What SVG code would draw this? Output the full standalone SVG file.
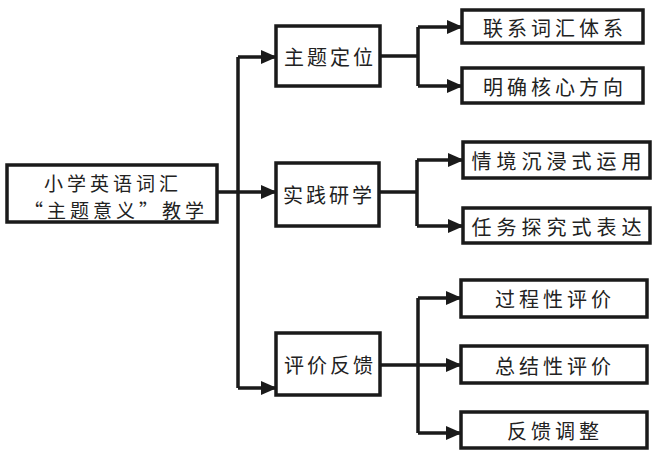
<svg xmlns="http://www.w3.org/2000/svg" width="654" height="454" viewBox="0 0 654 454">
<style>
.box{fill:#fff;stroke:#1a1a1a;stroke-width:3.5}
.t{font-family:"Noto Sans CJK SC","Noto Sans CJK JP",sans-serif;font-size:20px;fill:#222;text-anchor:middle;dominant-baseline:central;letter-spacing:4px}
.r{font-size:19px}
.c{fill:none;stroke:#1a1a1a;stroke-width:3.5}
.a{marker-end:url(#ah)}
</style>
<defs>
<marker id="ah" markerUnits="userSpaceOnUse" markerWidth="16" markerHeight="14" refX="15" refY="7" orient="auto">
<path d="M0,0 L16,7 L0,14 Z" fill="#1a1a1a"/>
</marker>
</defs>
<rect width="654" height="454" fill="#fff"/>
<g id="connectors">
<path class="c" d="M217,192 H238 M238,57 V388"/>
<path class="c a" d="M238,57 H276"/>
<path class="c a" d="M238,192 H276"/>
<path class="c a" d="M238,388 H276"/>
<path class="c" d="M380,56 H418 M418,27 V86"/>
<path class="c a" d="M418,27 H462"/>
<path class="c a" d="M418,86 H462"/>
<path class="c" d="M379,192 H417 M417,160 V226"/>
<path class="c a" d="M417,160 H463"/>
<path class="c a" d="M417,226 H463"/>
<path class="c" d="M380,365 H418 M418,298 V433"/>
<path class="c a" d="M418,298 H461"/>
<path class="c a" d="M418,365 H461"/>
<path class="c a" d="M418,433 H461"/>
</g>
<g id="root">
<rect class="box" x="7" y="165" width="210" height="57"/>
<text class="t r" x="113" y="182">小学英语词汇</text>
<text class="t r" x="116" y="209">“主题意义”教学</text>
</g>
<g id="n1">
<rect class="box" x="276" y="26" width="104" height="60"/>
<text class="t" x="330" y="56" style="letter-spacing:3px">主题定位</text>
</g>
<g id="n2">
<rect class="box" x="276" y="163" width="103" height="63"/>
<text class="t" x="329" y="194" style="letter-spacing:3px">实践研学</text>
</g>
<g id="n3">
<rect class="box" x="276" y="333" width="104" height="62"/>
<text class="t" x="330" y="364" style="letter-spacing:3px">评价反馈</text>
</g>
<g id="c1">
<rect class="box" x="462" y="10" width="181" height="33"/>
<text class="t" x="555" y="27">联系词汇体系</text>
</g>
<g id="c2">
<rect class="box" x="462" y="68" width="181" height="35"/>
<text class="t" x="555" y="86">明确核心方向</text>
</g>
<g id="c3">
<rect class="box" x="463" y="142" width="187" height="36"/>
<text class="t" x="559" y="160" style="letter-spacing:5px">情境沉浸式运用</text>
</g>
<g id="c4">
<rect class="box" x="463" y="208" width="187" height="35"/>
<text class="t" x="559" y="226" style="letter-spacing:5px">任务探究式表达</text>
</g>
<g id="c5">
<rect class="box" x="461" y="280" width="186" height="37"/>
<text class="t" x="555" y="298">过程性评价</text>
</g>
<g id="c6">
<rect class="box" x="461" y="346" width="186" height="37"/>
<text class="t" x="555" y="365">总结性评价</text>
</g>
<g id="c7">
<rect class="box" x="461" y="412" width="186" height="36"/>
<text class="t" x="555" y="430">反馈调整</text>
</g>
</svg>
